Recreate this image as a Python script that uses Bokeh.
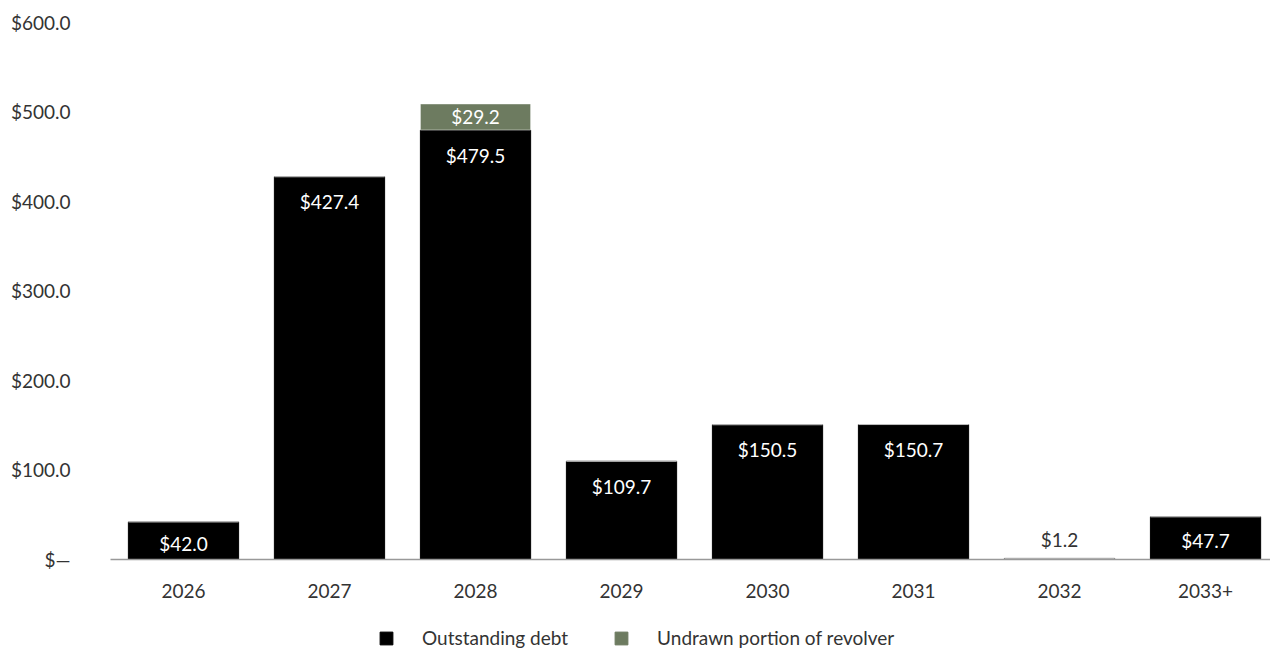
from bokeh.plotting import figure
from bokeh.layouts import column
from bokeh.models import ColumnDataSource, Range1d, FixedTicker, CustomJSTickFormatter, Legend, LegendItem
from bokeh.core.properties import value
from bokeh.embed import file_html
from bokeh.resources import INLINE

years = ["2026", "2027", "2028", "2029", "2030", "2031", "2032", "2033+"]
outstanding = [42.0, 427.4, 479.5, 109.7, 150.5, 150.7, 1.2, 47.7]
undrawn = [0.0, 0.0, 29.2, 0.0, 0.0, 0.0, 0.0, 0.0]
y_ticks = [0, 100, 200, 300, 400, 500, 600]
series_names = ["Outstanding debt", "Undrawn portion of revolver"]

FONT = "Lato"
FS = "19px"
BLACK = "#000000"
GREEN = "#6D7B60"
TEXT = "#333333"

xs = [i + 0.5 for i in range(len(years))]

p = figure(width=1270, height=600, x_range=Range1d(0, 7.945),
           y_range=Range1d(0, 613), output_backend="svg", toolbar_location=None,
           min_border_left=110, min_border_right=0, min_border_top=10, min_border_bottom=41)

src = ColumnDataSource(dict(
    x=xs, outstanding=outstanding, undrawn=undrawn,
    top2=[o + u for o, u in zip(outstanding, undrawn)],
))

p.vbar(x="x", bottom=0, top="outstanding", width=0.755, source=src,
       fill_color=BLACK, line_color=BLACK)
p.vbar(x="x", bottom="outstanding", top="top2", width=0.755, source=src,
       fill_color=GREEN, line_color="white", line_width=0.5)

inside_idx = [i for i, v in enumerate(outstanding) if v > 20]
small_idx = [i for i, v in enumerate(outstanding) if v <= 20]
s_in = ColumnDataSource(dict(x=[xs[i] for i in inside_idx],
                             y=[max(outstanding[i] - 28, outstanding[i] / 2 - 3) for i in inside_idx],
                             t=["$%.1f" % outstanding[i] for i in inside_idx]))
p.text(x="x", y="y", text="t", source=s_in, text_color="white", text_align="center",
       text_baseline="middle", text_font=value(FONT), text_font_size=FS)
s_sm = ColumnDataSource(dict(x=[xs[i] for i in small_idx], y=[outstanding[i] for i in small_idx],
                             t=["$%.1f" % outstanding[i] for i in small_idx]))
p.text(x="x", y="y", text="t", source=s_sm, text_color=TEXT, text_align="center",
       text_baseline="middle", y_offset=-19, text_font=value(FONT), text_font_size=FS)
und_idx = [i for i, v in enumerate(undrawn) if v > 0]
s_un = ColumnDataSource(dict(x=[xs[i] for i in und_idx],
                             y=[outstanding[i] + undrawn[i] / 2 for i in und_idx],
                             t=["$%.1f" % undrawn[i] for i in und_idx]))
p.text(x="x", y="y", text="t", source=s_un, text_color="white", text_align="center",
       text_baseline="middle", text_font=value(FONT), text_font_size=FS)

p.xgrid.grid_line_color = None
p.ygrid.grid_line_color = None
p.outline_line_color = None

p.yaxis.ticker = FixedTicker(ticks=y_ticks)
p.yaxis.formatter = CustomJSTickFormatter(code="return tick == 0 ? '$\u2014' : '$' + tick.toFixed(1);")
p.yaxis.axis_line_color = None
p.yaxis.major_tick_line_color = None
p.yaxis.minor_tick_line_color = None
p.yaxis.major_label_standoff = 34
p.yaxis.major_label_text_font = FONT
p.yaxis.major_label_text_font_size = FS
p.yaxis.major_label_text_color = TEXT

p.xaxis.ticker = FixedTicker(ticks=xs)
p.xaxis.major_label_overrides = {x: y for x, y in zip(xs, years)}
p.xaxis.axis_line_color = "#999999"
p.xaxis.axis_line_width = 1.5
p.xaxis.major_tick_line_color = None
p.xaxis.minor_tick_line_color = None
p.xaxis.major_label_standoff = 18
p.xaxis.major_label_text_font = FONT
p.xaxis.major_label_text_font_size = FS
p.xaxis.major_label_text_color = TEXT

# legend strip
pl = figure(width=1270, height=52, x_range=Range1d(0, 1270), y_range=Range1d(0, 52),
            output_backend="svg", toolbar_location=None, x_axis_location=None, y_axis_location=None,
            min_border_left=0, min_border_right=0, min_border_top=0, min_border_bottom=0)
pl.xgrid.grid_line_color = None
pl.ygrid.grid_line_color = None
pl.outline_line_color = None
l1 = pl.vbar(x=[-500], top=[-400], bottom=[-500], width=1, fill_color=BLACK, line_color=BLACK)
l2 = pl.vbar(x=[-500], top=[-400], bottom=[-500], width=1, fill_color=GREEN, line_color=GREEN)
legend = Legend(items=[LegendItem(label=series_names[0], renderers=[l1]),
                       LegendItem(label=series_names[1], renderers=[l2])],
                orientation="horizontal", location=(268, 3),
                label_text_font=FONT, label_text_font_size=FS, label_text_color=TEXT,
                glyph_width=16, glyph_height=16, spacing=45, label_standoff=28,
                border_line_color=None, background_fill_alpha=0, margin=0, padding=0)
pl.add_layout(legend, "center")

open("out.html", "w").write(file_html(column(p, pl, spacing=0), INLINE))
